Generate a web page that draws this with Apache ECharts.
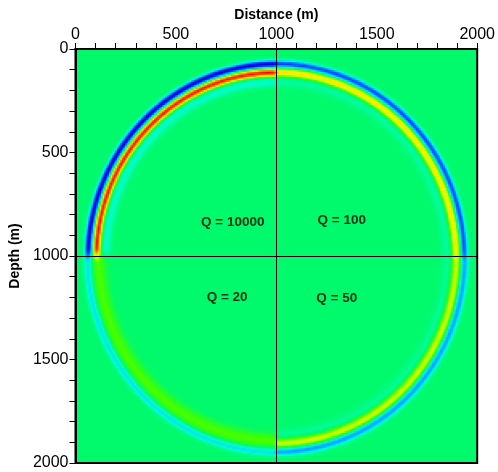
<!DOCTYPE html>
<html><head><meta charset="utf-8">
<script src="https://cdn.jsdelivr.net/npm/echarts@6/dist/echarts.min.js"></script>
<style>html,body{margin:0;padding:0;background:#fff}#c{width:498px;height:472px}</style>
</head><body><div id="c"></div>
<script>
// Radial wavelet profiles: offset from wavefront (m, + = outward) -> amplitude
const profileOffsets = [-90,-80,-70,-60,-50,-40,-30,-20,-10,0,10,20,30,40,50,60,70,80];
const profileQ10000  = [0,-0.02,-0.06,-0.12,-0.17,-0.17,-0.08,0.22,0.78,1.00,0.75,0.10,-0.60,-1.00,-0.75,-0.22,-0.03,0];
const profileQ100    = [0,-0.01,-0.03,-0.06,-0.09,-0.09,-0.04,0.15,0.48,0.63,0.48,0.10,-0.38,-0.74,-0.58,-0.16,-0.03,0];
const profileQ50     = [0,-0.01,-0.02,-0.04,-0.07,-0.07,-0.02,0.12,0.33,0.45,0.38,0.12,-0.22,-0.50,-0.45,-0.18,-0.04,0];
const profileQ20     = [0,0,0.01,0.03,0.07,0.12,0.17,0.21,0.22,0.20,0.14,0.04,-0.12,-0.30,-0.28,-0.12,-0.03,0];
const sourceX = 1000, sourceDepth = 1010, wavefrontRadius = 895;
const boundaryX = 1000, boundaryDepth = 1000;
const qLabels = ['Q = 10000', 'Q = 100', 'Q = 20', 'Q = 50'];
const qLabelX = [783, 1326, 755, 1301];
const qLabelDepth = [835, 826, 1198, 1203];
const axisMin = 0, axisMax = 2000;
const colorStops = ['#0000C0','#0020FF','#0074FF','#00CCFF','#00FFD8','#00FA6C','#40FF00','#C0FF00','#FFF000','#FF8000','#FF0000'];
const backgroundGreen = '#00FA6C';

const cell = 8, n = 250;
const cats = Array.from({length: n}, (_, i) => i);
function sampleProfile(p, d) {
  const o = profileOffsets;
  if (d <= o[0] || d >= o[o.length - 1]) return 0;
  const i = Math.floor((d - o[0]) / (o[1] - o[0]));
  const t = (d - o[i]) / (o[i + 1] - o[i]);
  return p[i] * (1 - t) + p[i + 1] * t;
}
function smooth(t) { t = Math.max(0, Math.min(1, t)); return t * t * (3 - 2 * t); }
const heat = [];
for (let iy = 0; iy < n; iy++) {
  for (let ix = 0; ix < n; ix++) {
    const x = (ix + 0.5) * cell, y = (iy + 0.5) * cell;
    const d = Math.hypot(x - sourceX, y - sourceDepth) - wavefrontRadius;
    if (d <= profileOffsets[0] || d >= profileOffsets[profileOffsets.length - 1]) continue;
    const wx = smooth((x - boundaryX) / 40 + 0.5);
    const wy = smooth((y - boundaryDepth) / 80 + 0.5);
    let v = (1 - wx) * (1 - wy) * sampleProfile(profileQ10000, d)
          + wx * (1 - wy) * sampleProfile(profileQ100, d)
          + (1 - wx) * wy * sampleProfile(profileQ20, d)
          + wx * wy * sampleProfile(profileQ50, d);
    v = Math.max(-1, Math.min(1, v));
    heat.push([ix, iy, v]);
  }
}

const chart = echarts.init(document.getElementById('c'), null, {renderer: 'canvas'});
const font = 'Liberation Sans';
chart.setOption({
  animation: false,
  grid: {left: 74, top: 49, width: 405, height: 414, show: true, backgroundColor: backgroundGreen, borderColor: '#000', borderWidth: 2},
  visualMap: {type: 'continuous', show: false, min: -1, max: 1, dimension: 2, seriesIndex: 0, inRange: {color: colorStops}},
  xAxis: [
    {type: 'category', data: cats, show: false, position: 'bottom', boundaryGap: true},
    {type: 'value', position: 'top', min: axisMin, max: axisMax, interval: 100,
     name: 'Distance (m)', nameLocation: 'middle', nameGap: 25,
     nameTextStyle: {fontFamily: font, fontSize: 14, fontWeight: 'bold', color: '#000'},
     axisLine: {show: true, lineStyle: {color: '#000', width: 2}},
     axisTick: {show: true, inside: false, length: 6, lineStyle: {color: '#000', width: 1}},
     axisLabel: {margin: 6, fontFamily: font, fontSize: 16, color: '#000', formatter: v => (v % 500 === 0 ? String(v) : '')},
     splitLine: {show: false}}
  ],
  yAxis: [
    {type: 'category', data: cats, show: false, inverse: true, position: 'right', boundaryGap: true},
    {type: 'value', position: 'left', inverse: true, min: axisMin, max: axisMax, interval: 100,
     name: 'Depth (m)', nameLocation: 'middle', nameGap: 45, nameRotate: 90,
     nameTextStyle: {fontFamily: font, fontSize: 14, fontWeight: 'bold', color: '#000'},
     axisLine: {show: true, lineStyle: {color: '#000', width: 2}},
     axisTick: {show: true, inside: false, length: 6, lineStyle: {color: '#000', width: 1}},
     axisLabel: {margin: 7, fontFamily: font, fontSize: 16, color: '#000', formatter: v => (v % 500 === 0 ? String(v) : '')},
     splitLine: {show: false}}
  ],
  series: [
    {type: 'heatmap', xAxisIndex: 0, yAxisIndex: 0, data: heat, progressive: 0, silent: true, emphasis: {disabled: true}},
    {type: 'scatter', xAxisIndex: 1, yAxisIndex: 1, z: 5, symbolSize: 0, silent: true,
     data: qLabelX.map((x, i) => ({value: [x, qLabelDepth[i]], label: {formatter: qLabels[i]}})),
     label: {show: true, position: 'inside', fontFamily: font, fontSize: 13.5, fontWeight: 'bold', color: '#000'},
     markLine: {silent: true, symbol: 'none', label: {show: false}, lineStyle: {color: '#000', width: 1, type: 'solid'},
       data: [{xAxis: boundaryX}, {yAxis: boundaryDepth}]}}
  ]
});
</script></body></html>
